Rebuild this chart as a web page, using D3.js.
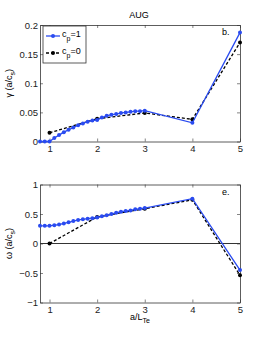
<!DOCTYPE html>
<html>
<head>
<meta charset="utf-8">
<script src="https://cdn.jsdelivr.net/npm/d3@7"></script>
<style>
  body { margin: 0; background: #fff; }
  svg { font-family: "Liberation Sans", Arial, sans-serif; }
</style>
</head>
<body>
<div id="chart"></div>
<script>
// a/L_Te scan, c_p=1 (fine) and c_p=0 (coarse)
const xFine = [0.8, 0.9, 1.0, 1.1, 1.2, 1.3, 1.4, 1.5, 1.6, 1.7, 1.8, 1.9, 2.0, 2.1, 2.2, 2.3, 2.4, 2.5, 2.6, 2.7, 2.8, 2.9, 3.0, 4, 5];
const gammaCp1 = [0, 0, 0, 0.006, 0.011, 0.016, 0.020, 0.024, 0.028, 0.031, 0.034, 0.036, 0.037, 0.041, 0.044, 0.046, 0.047, 0.049, 0.050, 0.051, 0.052, 0.052, 0.053, 0.032, 0.187];
const omegaCp1 = [0.30, 0.30, 0.30, 0.31, 0.32, 0.34, 0.36, 0.38, 0.40, 0.41, 0.42, 0.43, 0.44, 0.46, 0.48, 0.50, 0.52, 0.54, 0.55, 0.56, 0.58, 0.59, 0.60, 0.76, -0.45];

const xCoarse = [1, 2, 3, 4, 5];
const gammaCp0 = [0.015, 0.039, 0.049, 0.038, 0.170];
const omegaCp0 = [0.0, 0.45, 0.59, 0.74, -0.54];

const xTicks = [1, 2, 3, 4, 5];
const gammaTicks = [0, 0.05, 0.1, 0.15, 0.2];
const omegaTicks = [-1, -0.5, 0, 0.5, 1];

const width = 266, height = 340;
const svg = d3.select("#chart").append("svg").attr("width", width).attr("height", height);

const x = d3.scaleLinear().domain([0.8, 5]).range([40, 240]);

const blue = "#2a4bf0";

function panel(top, bottom, domain, ticks, fmt, fine, coarse, tag, ylab) {
  const y = d3.scaleLinear().domain(domain).range([bottom, top]);
  const g = svg.append("g");

  // zero line
  if (domain[0] < 0) {
    g.append("line").attr("x1", x(0.8)).attr("x2", x(5))
      .attr("y1", y(0)).attr("y2", y(0)).attr("stroke", "#000").attr("stroke-width", 0.8);
  }

  // axes, ticks pointing inward, mirrored on top/right
  const ax = [
    [d3.axisBottom(x).tickValues(xTicks).tickSize(-3).tickFormat(d3.format("d")).tickPadding(4), `translate(0,${bottom})`],
    [d3.axisTop(x).tickValues(xTicks).tickSize(-3).tickFormat(""), `translate(0,${top})`],
    [d3.axisLeft(y).tickValues(ticks).tickSize(-3).tickFormat(fmt).tickPadding(2), `translate(${x(0.8)},0)`],
    [d3.axisRight(y).tickValues(ticks).tickSize(-3).tickFormat(""), `translate(${x(5)},0)`]
  ];
  ax.forEach(([a, t]) => {
    const s = g.append("g").attr("transform", t).call(a.tickSizeOuter(0));
    s.select(".domain").attr("stroke", "#333").attr("stroke-width", 0.8);
    s.selectAll(".tick line").attr("stroke", "#333").attr("stroke-width", 0.6);
    s.selectAll("text").attr("font-size", 9.5).attr("fill", "#222");
  });

  const line = d3.line().x(d => x(d[0])).y(d => y(d[1]));

  g.append("path").datum(coarse).attr("d", line).attr("fill", "none")
    .attr("stroke", "#000").attr("stroke-width", 1.3).attr("stroke-dasharray", "3,2");
  g.selectAll(".c0").data(coarse).enter().append("circle")
    .attr("cx", d => x(d[0])).attr("cy", d => y(d[1])).attr("r", 2).attr("fill", "#000");

  g.append("path").datum(fine).attr("d", line).attr("fill", "none")
    .attr("stroke", blue).attr("stroke-width", 1.3);
  g.selectAll(".c1").data(fine).enter().append("circle")
    .attr("cx", d => x(d[0])).attr("cy", d => y(d[1])).attr("r", 2).attr("fill", blue);

  g.append("text").attr("x", 222).attr("y", top + 10).attr("font-size", 9).text(tag);

  const yl = g.append("text")
    .attr("transform", `translate(12,${(top + bottom) / 2}) rotate(-90)`)
    .attr("text-anchor", "middle").attr("font-size", 9);
  yl.append("tspan").text(ylab + " (a/c");
  yl.append("tspan").attr("font-size", 7).attr("dy", 3).text("s");
  yl.append("tspan").attr("dy", -3).text(")");
  return y;
}

svg.append("text").attr("x", 139).attr("y", 18).attr("text-anchor", "middle")
  .attr("font-size", 9).text("AUG");

panel(25, 141.5, [0, 0.2], gammaTicks, d => d === 0 ? "0" : d3.format("")(d),
  xFine.map((v, i) => [v, gammaCp1[i]]), xCoarse.map((v, i) => [v, gammaCp0[i]]), "b.", "γ");

panel(184.5, 302.5, [-1, 1], omegaTicks, d => d < 0 ? "\u2212" + Math.abs(d) : String(d),
  xFine.map((v, i) => [v, omegaCp1[i]]), xCoarse.map((v, i) => [v, omegaCp0[i]]), "e.", "ω");

// x label
const xl = svg.append("text").attr("x", 140).attr("y", 320).attr("text-anchor", "middle").attr("font-size", 9);
xl.append("tspan").text("a/L");
xl.append("tspan").attr("font-size", 7).attr("dy", 3).text("Te");

// legend
const lg = svg.append("g").attr("transform", "translate(43,26)");
lg.append("rect").attr("width", 43).attr("height", 37).attr("fill", "#fff").attr("stroke", "#333").attr("stroke-width", 0.8);
const items = [["c", "p", "=1", blue, null], ["c", "p", "=0", "#000", "3,2"]];
items.forEach((it, i) => {
  const yy = 10 + i * 17;
  lg.append("line").attr("x1", 3).attr("x2", 17).attr("y1", yy).attr("y2", yy)
    .attr("stroke", it[3]).attr("stroke-width", 1.3).attr("stroke-dasharray", it[4]);
  lg.append("circle").attr("cx", 10).attr("cy", yy).attr("r", 2).attr("fill", it[3]);
  const t = lg.append("text").attr("x", 19).attr("y", yy + 1).attr("font-size", 9);
  t.append("tspan").text(it[0]);
  t.append("tspan").attr("font-size", 7).attr("dy", 4).text(it[1]);
  t.append("tspan").attr("dy", -4).text(it[2]);
});
</script>
</body>
</html>
